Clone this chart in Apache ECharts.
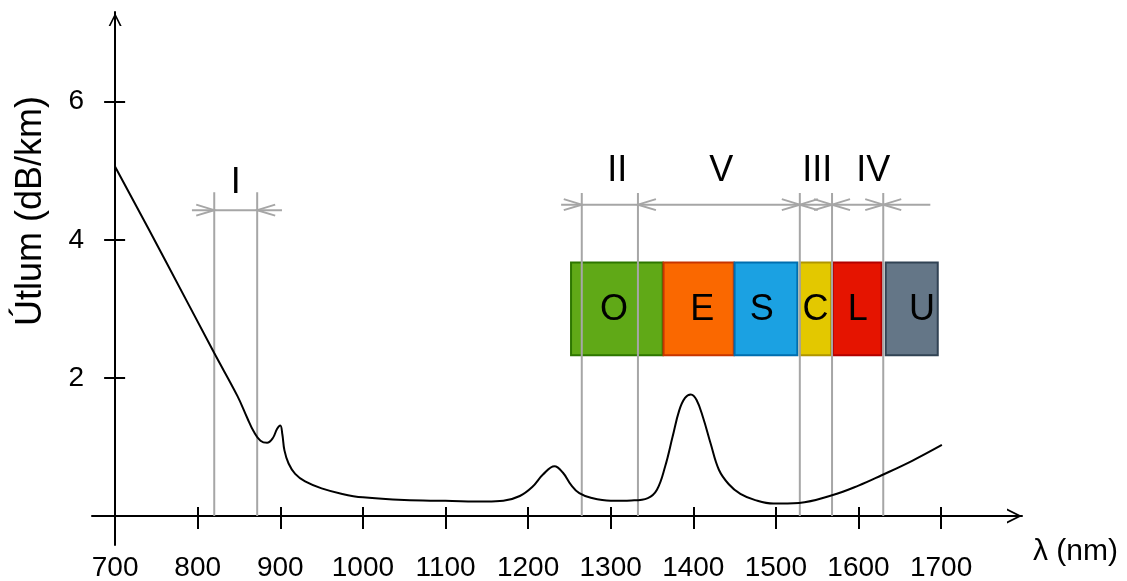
<!DOCTYPE html>
<html>
<head>
<meta charset="utf-8">
<script src="https://cdn.jsdelivr.net/npm/echarts@6/dist/echarts.min.js"></script>
<style>
html,body{margin:0;padding:0;background:#fff;}
#chart{width:1127px;height:581px;}
</style>
</head>
<body>
<div id="chart"></div>
<script>
// ---------- data ----------
const xTicks = [700, 800, 900, 1000, 1100, 1200, 1300, 1400, 1500, 1600, 1700];
const yTicks = [2, 4, 6];
// attenuation curve (wavelength nm, dB/km)
const curveX = [700, 760, 820, 848, 860, 868, 876, 884, 891, 896, 900, 902.5, 905, 910, 918, 930, 950, 975, 1000, 1050, 1100, 1150, 1170, 1190, 1205, 1218, 1232, 1242, 1252, 1262, 1277, 1300, 1325, 1345, 1356, 1366, 1375, 1383, 1390, 1397, 1404, 1412, 1421, 1431, 1443, 1457, 1475, 1497, 1528, 1568, 1600, 1628, 1665, 1701];
const curveY = [5.06, 3.72, 2.36, 1.74, 1.42, 1.22, 1.09, 1.06, 1.13, 1.26, 1.31, 1.18, 0.95, 0.76, 0.61, 0.50, 0.40, 0.32, 0.27, 0.23, 0.22, 0.21, 0.22, 0.29, 0.42, 0.60, 0.72, 0.63, 0.45, 0.33, 0.26, 0.22, 0.225, 0.26, 0.38, 0.72, 1.15, 1.53, 1.71, 1.76, 1.68, 1.42, 1.05, 0.67, 0.46, 0.32, 0.23, 0.18, 0.19, 0.30, 0.44, 0.59, 0.80, 1.03];
// transmission windows
const windowIBounds = [820, 872];
const windowBounds = [1265, 1333, 1529, 1568, 1630];
const windowLabels = ['I', 'II', 'V', 'III', 'IV'];
const windowLabelX = [846, 1308, 1434, 1550, 1618];
// arrow heads: tip wavelength, direction (1 = points right, -1 = points left), row (0 = window I row, 1 = upper row)
const arrowTip = [820, 872, 1265, 1333, 1529, 1529, 1568, 1568, 1630, 1630];
const arrowDir = [1, -1, 1, -1, 1, -1, 1, -1, 1, -1];
const arrowRow = [0, 0, 1, 1, 1, 1, 1, 1, 1, 1];
const arrowRowStart = [793, 1240];
const arrowRowEnd = [902, 1687];
// optical bands
const bandNames = ['O', 'E', 'S', 'C', 'L', 'U'];
const bandStart = [1252, 1364, 1450, 1529, 1569, 1633];
const bandEnd = [1363, 1449, 1526, 1567, 1628, 1696];
const bandFill = ['#60a917', '#fa6800', '#1ba1e2', '#e3c800', '#e51400', '#647687'];
const bandStroke = ['#2d7600', '#c73500', '#006eaf', '#b09500', '#b20000', '#314354'];
const bandLetterX = [1304, 1411, 1483, 1548, 1599, 1677];

// ---------- layout constants ----------
const X_MIN = 672, X_MAX = 1798, Y_MIN = -0.42, Y_MAX = 7.3;
const GRID = {left: 92, right: 105, top: 12, bottom: 36, outerBoundsMode: 'none'};
const gridW = 1127 - GRID.left - GRID.right;
const Y_AXIS_AT = 700;
const yAxisOffset = -(Y_AXIS_AT - X_MIN) * gridW / (X_MAX - X_MIN);
const LINE_TOP_I = 4.69, LINE_TOP = 4.68;
const ARROW_Y = [4.43, 4.51];
const LABEL_Y = [4.82, 4.99];
const BAND_BOTTOM = 2.33, BAND_TOP = 3.67, BAND_TEXT_Y = 2.98;
const GRAY = '#a6a6a6';
const FONT = 'Liberation Sans, Arial, sans-serif';
const chevron = 'path://M50,0 L100,100 L86,100 L50,26 L14,100 L0,100 Z';

const curveData = curveX.map((x, i) => [x, curveY[i]]);

const chart = echarts.init(document.getElementById('chart'), null, {renderer: 'canvas'});

const axisBase = {
  type: 'value', min: X_MIN, max: X_MAX,
  splitLine: {show: false}
};
const plain = v => String(v);

const option = {
  animation: false,
  backgroundColor: '#fff',
  grid: GRID,
  xAxis: [
    Object.assign({}, axisBase, {
      position: 'bottom',
      name: 'λ (nm)', nameLocation: 'end', nameGap: 11,
      nameTextStyle: {fontSize: 30, color: '#000', fontFamily: FONT, align: 'left', verticalAlign: 'top', padding: [21, 0, 0, 0]},
      axisLine: {onZero: true, lineStyle: {color: '#000', width: 2}, symbol: ['none', chevron], symbolSize: [15, 15], symbolOffset: [0, -7.5]},
      axisTick: {show: true, customValues: xTicks, length: 13, lineStyle: {color: '#000', width: 2}},
      axisLabel: {customValues: xTicks, margin: 9, fontSize: 28, color: '#000', fontFamily: FONT, formatter: plain}
    }),
    Object.assign({}, axisBase, {
      position: 'bottom',
      axisLine: {onZero: true, onZeroAxisIndex: 0, lineStyle: {opacity: 0}},
      axisTick: {show: true, inside: true, customValues: xTicks, length: 9, lineStyle: {color: '#000', width: 2}},
      axisLabel: {show: false}
    })
  ],
  yAxis: [
    {
      type: 'value', min: Y_MIN, max: Y_MAX, position: 'left', offset: yAxisOffset,
      splitLine: {show: false},
      name: 'Útlum (dB/km)', nameLocation: 'middle', nameRotate: 90, nameGap: 66,
      nameTextStyle: {fontSize: 36, color: '#000', fontFamily: FONT, padding: [0, 0, 0, 135]},
      axisLine: {onZero: false, lineStyle: {color: '#000', width: 2}, symbol: ['none', chevron], symbolSize: [13, 15], symbolOffset: [0, -7.5]},
      axisTick: {show: true, customValues: yTicks, length: 11, lineStyle: {color: '#000', width: 2}},
      axisLabel: {customValues: yTicks, margin: 31, fontSize: 28, color: '#000', fontFamily: FONT, formatter: plain, padding: [0, 0, 8, 0]}
    },
    {
      type: 'value', min: Y_MIN, max: Y_MAX, position: 'left', offset: yAxisOffset,
      splitLine: {show: false},
      axisLine: {onZero: false, lineStyle: {opacity: 0}},
      axisTick: {show: true, inside: true, customValues: yTicks, length: 10, lineStyle: {color: '#000', width: 2}},
      axisLabel: {show: false}
    }
  ],
  series: [
    {
      type: 'custom', z: 1, silent: true,
      data: bandNames.map((n, i) => [bandStart[i], bandEnd[i], BAND_BOTTOM, BAND_TOP]),
      encode: {x: [0, 1], y: [2, 3]},
      renderItem: function (params, api) {
        const i = params.dataIndex;
        const p0 = api.coord([api.value(0), api.value(3)]);
        const p1 = api.coord([api.value(1), api.value(2)]);
        const tc = api.coord([bandLetterX[i], BAND_TEXT_Y]);
        return {type: 'group', children: [
          {type: 'rect', shape: {x: p0[0], y: p0[1], width: p1[0] - p0[0], height: p1[1] - p0[1]},
           style: {fill: bandFill[i], stroke: bandStroke[i], lineWidth: 2}},
          {type: 'text', x: tc[0], y: tc[1],
           style: {text: bandNames[i], fontSize: 36, fontFamily: FONT, fill: '#000', align: 'center', verticalAlign: 'middle'}}
        ]};
      }
    },
    {
      type: 'custom', z: 2, silent: true,
      data: windowIBounds.map(v => [v, LINE_TOP_I]).concat(windowBounds.map(v => [v, LINE_TOP])),
      renderItem: function (params, api) {
        const a = api.coord([api.value(0), api.value(1)]);
        const b = api.coord([api.value(0), 0]);
        return {type: 'line', shape: {x1: a[0], y1: a[1], x2: b[0], y2: b[1]}, style: {stroke: GRAY, lineWidth: 2}};
      }
    },
    {
      type: 'custom', z: 2, silent: true,
      data: arrowRowStart.map((s, i) => [s, arrowRowEnd[i], ARROW_Y[i]]),
      encode: {x: [0, 1], y: 2},
      renderItem: function (params, api) {
        const a = api.coord([api.value(0), api.value(2)]);
        const b = api.coord([api.value(1), api.value(2)]);
        return {type: 'line', shape: {x1: a[0], y1: a[1], x2: b[0], y2: b[1]}, style: {stroke: GRAY, lineWidth: 2}};
      }
    },
    {
      type: 'custom', z: 2, silent: true,
      data: arrowTip.map((t, i) => [t, ARROW_Y[arrowRow[i]], arrowDir[i]]),
      renderItem: function (params, api) {
        const p = api.coord([api.value(0), api.value(1)]);
        const d = api.value(2);
        return {type: 'polyline', shape: {points: [[p[0] - 18 * d, p[1] - 5.5], [p[0], p[1]], [p[0] - 18 * d, p[1] + 5.5]]},
                style: {stroke: GRAY, lineWidth: 2, fill: null}};
      }
    },
    {
      type: 'custom', z: 3, silent: true,
      data: windowLabelX.map((x, i) => [x, LABEL_Y[i === 0 ? 0 : 1]]),
      renderItem: function (params, api) {
        const p = api.coord([api.value(0), api.value(1)]);
        return {type: 'text', x: p[0], y: p[1],
                style: {text: windowLabels[params.dataIndex], fontSize: 36, fontFamily: FONT, fill: '#000', align: 'center', verticalAlign: 'middle'}};
      }
    },
    {
      type: 'line', z: 5, silent: true,
      data: curveData,
      showSymbol: false, smooth: 0.4,
      lineStyle: {color: '#000', width: 2}
    }
  ]
};
chart.setOption(option);
</script>
</body>
</html>
